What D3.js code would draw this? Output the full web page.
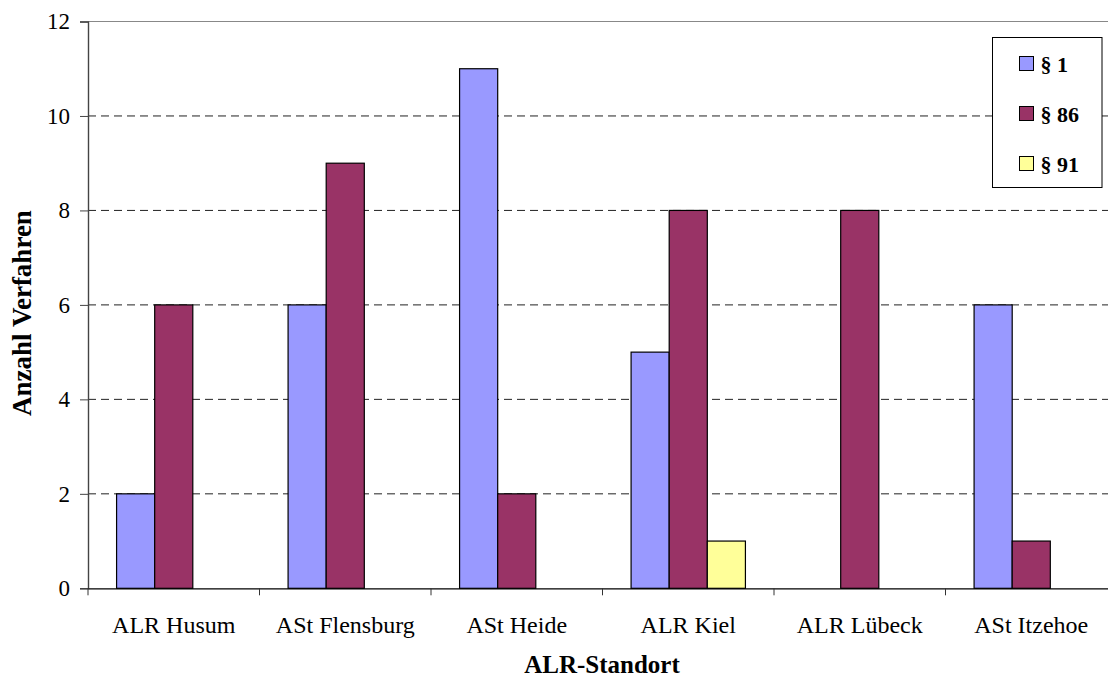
<!DOCTYPE html>
<html>
<head>
<meta charset="utf-8">
<script src="https://cdn.jsdelivr.net/npm/d3@7"></script>
<style>
  html, body { margin: 0; padding: 0; background: #fff; }
  svg { display: block; }
  text { font-family: "Liberation Serif", "Times New Roman", serif; fill: #000; }
</style>
</head>
<body>
<svg id="chart" width="1108" height="678"></svg>
<script>
// Verfahren je Standort, nach Paragraph
const categories = ["ALR Husum", "ASt Flensburg", "ASt Heide", "ALR Kiel", "ALR Lübeck", "ASt Itzehoe"];
const seriesNames = ["§ 1", "§ 86", "§ 91"];
const para1  = [2, 6, 11, 5, 0, 6];
const para86 = [6, 9, 2, 8, 8, 1];
const para91 = [0, 0, 0, 1, 0, 0];
const yTicks = [0, 2, 4, 6, 8, 10, 12];
const colors = ["#9999FF", "#993366", "#FFFF99"];

const seriesValues = [para1, para86, para91];

const svg = d3.select("#chart");
const plotLeft = 88, plotRight = 1117, plotTop = 21.5, plotBottom = 588.3;

const x = d3.scaleBand().domain(categories).range([plotLeft, plotRight]).paddingInner(0).paddingOuter(0);
const inner = d3.scaleBand().domain(seriesNames).range([0, x.bandwidth()])
  .paddingInner(0).paddingOuter(0.75);
const y = d3.scaleLinear().domain([0, 12]).range([plotBottom, plotTop]);

// Horizontal dashed gridlines
svg.append("g").selectAll("line")
  .data(yTicks.filter(t => t > 0 && t < 12))
  .join("line")
  .attr("x1", plotLeft).attr("x2", 1108)
  .attr("y1", d => y(d)).attr("y2", d => y(d))
  .attr("stroke", "#222").attr("stroke-width", 1)
  .attr("stroke-dasharray", "8,5");

// Upper plot border
svg.append("line")
  .attr("x1", plotLeft).attr("x2", 1108)
  .attr("y1", y(12)).attr("y2", y(12))
  .attr("stroke", "#888").attr("stroke-width", 1.2);

// Bars
const rows = categories.map((c, i) => ({ cat: c, vals: seriesNames.map((s, j) => ({ s, j, v: seriesValues[j][i] })) }));
svg.append("g").selectAll("g")
  .data(rows)
  .join("g")
  .attr("transform", d => `translate(${x(d.cat)},0)`)
  .selectAll("rect")
  .data(d => d.vals.filter(e => e.v > 0))
  .join("rect")
  .attr("x", d => inner(d.s))
  .attr("width", inner.bandwidth())
  .attr("y", d => y(d.v))
  .attr("height", d => y(0) - y(d.v))
  .attr("fill", d => colors[d.j])
  .attr("stroke", "#000").attr("stroke-width", 1.2);

// Y axis
const yAxis = svg.append("g")
  .attr("transform", `translate(${plotLeft},0)`)
  .call(d3.axisLeft(y).tickValues(yTicks).tickSize(8).tickPadding(10).tickFormat(d3.format("d")));
yAxis.select(".domain").attr("stroke", "#444").attr("stroke-width", 1.4);
yAxis.selectAll(".tick line").attr("stroke", "#444");
yAxis.selectAll(".tick text")
  .style("font-family", "'Liberation Serif', serif")
  .attr("font-size", 23).attr("fill", "#000");

// X axis
const xAxis = svg.append("g")
  .attr("transform", `translate(0,${plotBottom})`)
  .call(d3.axisBottom(x).tickSize(0).tickPadding(0));
xAxis.select(".domain").attr("stroke", "#000").attr("stroke-width", 1.2);
xAxis.selectAll(".tick text")
  .style("font-family", "'Liberation Serif', serif")
  .attr("font-size", 24)
  .attr("dy", 0)
  .attr("y", 44.7)
  .attr("fill", "#000");

// Category separator ticks
svg.append("g").selectAll("line")
  .data(categories)
  .join("line")
  .attr("x1", d => x(d)).attr("x2", d => x(d))
  .attr("y1", plotBottom).attr("y2", plotBottom + 7)
  .attr("stroke", "#333").attr("stroke-width", 1);

// Axis titles
svg.append("text")
  .attr("x", 602).attr("y", 673)
  .attr("text-anchor", "middle")
  .attr("font-size", 25).attr("font-weight", "bold")
  .text("ALR-Standort");

svg.append("text")
  .attr("transform", "translate(31,313) rotate(-90)")
  .attr("text-anchor", "middle")
  .attr("font-size", 27).attr("font-weight", "bold")
  .text("Anzahl Verfahren");

// Legend
const legend = svg.append("g").attr("transform", "translate(992.5,37.5)");
legend.append("rect")
  .attr("width", 109.5).attr("height", 150)
  .attr("fill", "#fff").attr("stroke", "#000").attr("stroke-width", 1);
const item = legend.selectAll("g.item")
  .data(seriesNames)
  .join("g").attr("class", "item")
  .attr("transform", (d, i) => `translate(0,${26 + i * 50})`);
item.append("rect")
  .attr("x", 27).attr("y", -7).attr("width", 14).attr("height", 14)
  .attr("fill", (d, i) => colors[i]).attr("stroke", "#000").attr("stroke-width", 1);
item.append("text")
  .attr("x", 48).attr("y", 8)
  .attr("font-size", 22).attr("font-weight", "bold")
  .text(d => d);
</script>
</body>
</html>
